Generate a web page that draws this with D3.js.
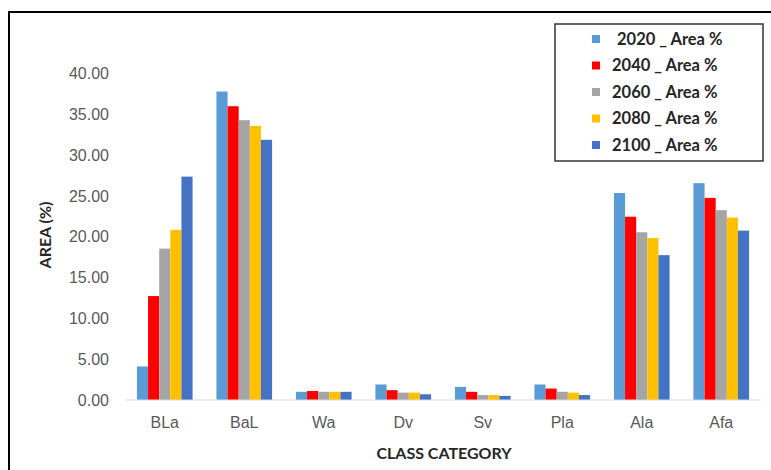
<!DOCTYPE html>
<html>
<head>
<meta charset="UTF-8">
<script src="https://d3js.org/d3.v7.min.js"></script>
<style>
  body { margin: 0; background: #fff; }
  svg { font-family: Lato, "Open Sans", sans-serif; }
  .tick text { fill: #595959; font-size: 16px; }
</style>
</head>
<body>
<svg width="771" height="470"></svg>
<script>
const categories = ["BLa", "BaL", "Wa", "Dv", "Sv", "Pla", "Ala", "Afa"];
const seriesNames = ["2020 _ Area %", "2040 _ Area %", "2060 _ Area %", "2080 _ Area %", "2100 _ Area %"];
const colors = ["#5B9BD5", "#FF0000", "#A5A5A5", "#FFC000", "#4472C4"];

const v2020 = [4.1, 37.7, 1.0, 1.9, 1.6, 1.9, 25.3, 26.5];
const v2040 = [12.7, 35.9, 1.1, 1.2, 1.0, 1.4, 22.4, 24.7];
const v2060 = [18.5, 34.2, 1.0, 0.9, 0.6, 1.0, 20.5, 23.2];
const v2080 = [20.8, 33.5, 1.0, 0.9, 0.6, 0.9, 19.8, 22.3];
const v2100 = [27.3, 31.8, 1.0, 0.7, 0.5, 0.6, 17.7, 20.7];
const yTicks = [0, 5, 10, 15, 20, 25, 30, 35, 40];

const series = [v2020, v2040, v2060, v2080, v2100];

const svg = d3.select("svg");

// Rahmen (rechts/unten abgeschnitten)
svg.append("rect")
  .attr("x", 9).attr("y", 12)
  .attr("width", 820).attr("height", 520)
  .attr("fill", "none").attr("stroke", "#000").attr("stroke-width", 2);

const x = d3.scaleBand().domain(categories).range([125, 761]).paddingInner(0.3).paddingOuter(0.15);
const xs = d3.scaleBand().domain(d3.range(series.length)).range([0, x.bandwidth()]);
const y = d3.scaleLinear().domain([0, 40]).range([400, 72.7]);

// y-Achse (nur Beschriftung)
const ya = svg.append("g")
  .attr("transform", "translate(109,0)")
  .call(d3.axisLeft(y).tickValues(yTicks).tickFormat(d3.format(".2f")).tickSize(0).tickPadding(0));
ya.select(".domain").remove();
ya.selectAll("text").attr("dy", "0.35em");

// Balken
const groups = svg.selectAll(".grp")
  .data(categories)
  .join("g")
  .attr("transform", d => `translate(${x(d)},0)`);

groups.selectAll("rect")
  .data((d, i) => series.map((s, k) => ({ k, v: s[i] })))
  .join("rect")
  .attr("x", d => xs(d.k))
  .attr("y", d => y(d.v))
  .attr("width", xs.bandwidth())
  .attr("height", d => y(0) - y(d.v))
  .attr("fill", d => colors[d.k]);

// x-Achse
const xa = svg.append("g")
  .attr("transform", `translate(0,${y(0)})`)
  .call(d3.axisBottom(x).tickSize(0).tickPadding(17));
xa.select(".domain").attr("d", "M125,0H761").attr("stroke", "#d9d9d9");

// Achsentitel
svg.append("text")
  .attr("transform", "translate(45,235) rotate(-90)")
  .attr("text-anchor", "middle").attr("dy", "0.35em")
  .attr("font-size", 16).attr("font-weight", "bold").attr("fill", "#262626")
  .text("AREA (%)");

svg.append("text")
  .attr("x", 444).attr("y", 453)
  .attr("text-anchor", "middle").attr("dy", "0.35em")
  .attr("font-size", 16).attr("font-weight", "bold").attr("fill", "#262626")
  .text("CLASS CATEGORY");

// Legende
svg.append("rect")
  .attr("x", 555).attr("y", 24).attr("width", 208).attr("height", 137)
  .attr("fill", "#fff").attr("stroke", "#333").attr("stroke-width", 1.5);

const leg = svg.selectAll(".leg")
  .data(seriesNames)
  .join("g")
  .attr("transform", (d, i) => `translate(592,${39 + i * 26.5})`);

leg.append("rect")
  .attr("x", 0).attr("y", -4).attr("width", 8).attr("height", 8)
  .attr("fill", (d, i) => colors[i]);

leg.append("text")
  .attr("x", (d, i) => i === 0 ? 25 : 20).attr("dy", "0.35em")
  .attr("font-size", 16.5).attr("font-weight", "bold").attr("fill", "#262626")
  .text(d => d);
</script>
</body>
</html>
